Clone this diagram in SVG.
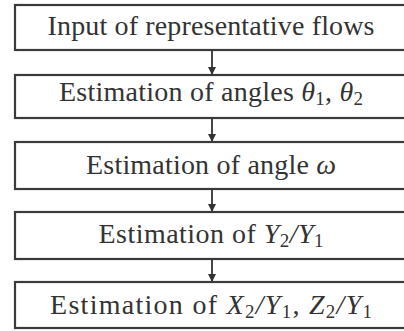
<svg xmlns="http://www.w3.org/2000/svg" width="404" height="331" viewBox="0 0 404 331">
<defs>
<style>
.box{fill:#fff;stroke:#3a3a3a;stroke-width:2.2}
.t{font-family:"Liberation Serif","DejaVu Serif",serif;font-size:28px;fill:#333;text-anchor:middle}
.i{font-style:italic}
.s{font-size:19px}
.c{stroke:#333;stroke-width:1.8;fill:none}
</style>
<marker id="ah" markerWidth="8" markerHeight="10" refX="8" refY="4" orient="auto" markerUnits="userSpaceOnUse" viewBox="0 0 8 8">
<path d="M0,0 L8,4 L0,8 Z" fill="#333"/>
</marker>
</defs>
<rect width="404" height="331" fill="#fff"/>
<g id="connectors">
<line class="c" x1="212" y1="51" x2="212" y2="75" marker-end="url(#ah)"/>
<line class="c" x1="212" y1="119" x2="212" y2="142" marker-end="url(#ah)"/>
<line class="c" x1="212" y1="190" x2="212" y2="212" marker-end="url(#ah)"/>
<line class="c" x1="212" y1="260" x2="212" y2="282" marker-end="url(#ah)"/>
</g>
<g id="n1">
<rect class="box" x="15" y="5" width="400" height="45"/>
<text class="t" x="211" y="35" textLength="327" lengthAdjust="spacing">Input of representative flows</text>
</g>
<g id="n2">
<rect class="box" x="15" y="75" width="400" height="43"/>
<text class="t" x="211" y="101" textLength="304" lengthAdjust="spacing">Estimation of angles <tspan class="i">θ</tspan><tspan class="s" dy="4">1</tspan><tspan dy="-4">, </tspan><tspan class="i">θ</tspan><tspan class="s" dy="4">2</tspan></text>
</g>
<g id="n3">
<rect class="box" x="15" y="142" width="400" height="47"/>
<text class="t" x="211" y="174" textLength="250" lengthAdjust="spacing">Estimation of angle <tspan class="i">ω</tspan></text>
</g>
<g id="n4">
<rect class="box" x="15" y="212" width="400" height="47"/>
<text class="t" x="211" y="243" textLength="225" lengthAdjust="spacing">Estimation of <tspan class="i">Y</tspan><tspan class="s" dy="4">2</tspan><tspan class="i" dy="-4">/Y</tspan><tspan class="s" dy="4">1</tspan></text>
</g>
<g id="n5">
<rect class="box" x="15" y="282" width="400" height="46"/>
<text class="t" x="211" y="314" textLength="322" lengthAdjust="spacing">Estimation of <tspan class="i">X</tspan><tspan class="s" dy="4">2</tspan><tspan class="i" dy="-4">/Y</tspan><tspan class="s" dy="4">1</tspan><tspan dy="-4">, </tspan><tspan class="i">Z</tspan><tspan class="s" dy="4">2</tspan><tspan class="i" dy="-4">/Y</tspan><tspan class="s" dy="4">1</tspan></text>
</g>
</svg>
